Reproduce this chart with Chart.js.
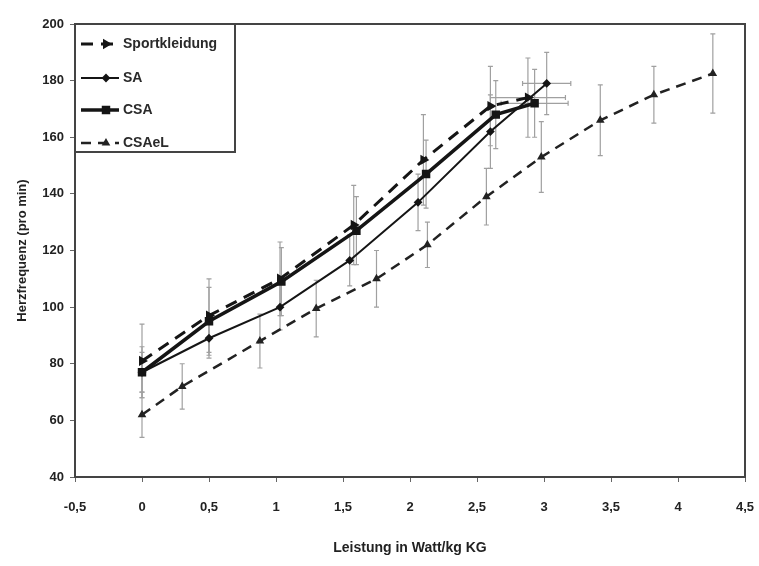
<!DOCTYPE html>
<html>
<head>
<meta charset="utf-8">
<script src="https://cdn.jsdelivr.net/npm/chart.js@4.4.1/dist/chart.umd.min.js"></script>
<style>
  html, body { margin: 0; padding: 0; background: #fff; }
  #wrap { width: 759px; height: 566px; }
</style>
</head>
<body>
<div id="wrap"><canvas id="hfChart" width="759" height="566"></canvas></div>
<script>
// Werte (geschätzt)
const xTicks = [-0.5, 0, 0.5, 1, 1.5, 2, 2.5, 3, 3.5, 4, 4.5];
const yTicks = [40, 60, 80, 100, 120, 140, 160, 180, 200];

const sportX = [0, 0.5, 1.03, 1.58, 2.1, 2.6, 2.88];
const sportY = [81, 97, 110, 129, 152, 171, 174];
const sportSd = [13, 13, 13, 14, 16, 14, 14];
const sportXSd = [0, 0, 0, 0, 0, 0, 0.28];

const saX = [0, 0.5, 1.03, 1.55, 2.06, 2.6, 3.02];
const saY = [77, 89, 100, 116.5, 137, 162, 179];
const saSd = [7, 7, 8, 9, 10, 13, 11];
const saXSd = [0, 0, 0, 0, 0, 0, 0.18];

const csaX = [0, 0.5, 1.04, 1.6, 2.12, 2.64, 2.93];
const csaY = [77, 95, 109, 127, 147, 168, 172];
const csaSd = [9, 12, 12, 12, 12, 12, 12];
const csaXSd = [0, 0, 0, 0, 0, 0, 0.25];

const csaelX = [0, 0.3, 0.88, 1.3, 1.75, 2.13, 2.57, 2.98, 3.42, 3.82, 4.26];
const csaelY = [62, 72, 88, 99.5, 110, 122, 139, 153, 166, 175, 182.5];
const csaelSd = [8, 8, 9.5, 10, 10, 8, 10, 12.5, 12.5, 10, 14];
const csaelXSd = [0, 0, 0, 0, 0, 0, 0, 0, 0, 0, 0];

const toPoints = (xs, ys) => xs.map((x, i) => ({ x: x, y: ys[i] }));
const comma = (v) => String(v).replace('.', ',');

const INK = '#151515';
const FONT = "'Liberation Sans', Arial, sans-serif";

// Fehlerbalken (grau) unter den Linien
const errorBars = {
    id: 'errorBars',
    beforeDatasetsDraw(chart) {
        const { ctx, scales: { x, y } } = chart;
        ctx.save();
        ctx.strokeStyle = '#a0a0a0';
        ctx.lineWidth = 1.2;
        chart.data.datasets.forEach((ds) => {
            ds.data.forEach((p, i) => {
                const px = x.getPixelForValue(p.x);
                const sd = ds.ySd[i];
                if (sd) {
                    const top = y.getPixelForValue(p.y + sd);
                    const bot = y.getPixelForValue(p.y - sd);
                    ctx.beginPath();
                    ctx.moveTo(px, top); ctx.lineTo(px, bot);
                    ctx.moveTo(px - 2.5, top); ctx.lineTo(px + 2.5, top);
                    ctx.moveTo(px - 2.5, bot); ctx.lineTo(px + 2.5, bot);
                    ctx.stroke();
                }
                const xsd = ds.xSd[i];
                if (xsd) {
                    const py = y.getPixelForValue(p.y);
                    const l = x.getPixelForValue(p.x - xsd);
                    const r = x.getPixelForValue(p.x + xsd);
                    ctx.beginPath();
                    ctx.moveTo(l, py); ctx.lineTo(r, py);
                    ctx.moveTo(l, py - 2.5); ctx.lineTo(l, py + 2.5);
                    ctx.moveTo(r, py - 2.5); ctx.lineTo(r, py + 2.5);
                    ctx.stroke();
                }
            });
        });
        ctx.restore();
    }
};

// Rahmen um den Plotbereich und Legende oben links
const frameAndLegend = {
    id: 'frameAndLegend',
    afterDraw(chart) {
        const { ctx, chartArea: a } = chart;
        ctx.save();
        ctx.strokeStyle = '#444';
        ctx.lineWidth = 2;
        ctx.strokeRect(a.left, a.top, a.right - a.left, a.bottom - a.top);

        const boxW = 160, boxH = 128;
        ctx.fillStyle = '#fff';
        ctx.fillRect(a.left, a.top, boxW, boxH);
        ctx.strokeRect(a.left, a.top, boxW, boxH);

        const rows = [20, 54, 86, 119];
        ctx.font = 'bold 14px ' + FONT;
        ctx.textBaseline = 'middle';
        chart.data.datasets.forEach((ds, i) => {
            const ly = a.top + rows[i];
            const x0 = a.left + 6, x1 = a.left + 44;
            ctx.strokeStyle = ds.borderColor;
            ctx.lineWidth = ds.borderWidth;
            ctx.setLineDash(ds.borderDash || []);
            ctx.beginPath();
            ctx.moveTo(x0, ly); ctx.lineTo(x1, ly);
            ctx.stroke();
            ctx.setLineDash([]);
            ctx.fillStyle = INK;
            Chart.helpers.drawPoint(ctx, {
                pointStyle: ds.pointStyle,
                radius: ds.pointRadius,
                rotation: ds.pointRotation || 0,
                borderWidth: 1
            }, (x0 + x1) / 2 + 6, ly);
            ctx.fillStyle = '#2a2a2a';
            ctx.fillText(ds.label, a.left + 48, ly);
        });
        ctx.restore();
    }
};

new Chart(document.getElementById('hfChart'), {
    type: 'scatter',
    data: {
        datasets: [
            {
                label: 'Sportkleidung',
                data: toPoints(sportX, sportY),
                ySd: sportSd, xSd: sportXSd,
                showLine: true,
                borderColor: INK, backgroundColor: INK,
                borderWidth: 3, borderDash: [12, 8],
                pointStyle: 'triangle', pointRotation: 90, pointRadius: 3
            },
            {
                label: 'SA',
                data: toPoints(saX, saY),
                ySd: saSd, xSd: saXSd,
                showLine: true,
                borderColor: INK, backgroundColor: INK,
                borderWidth: 2,
                pointStyle: 'rectRot', pointRadius: 3
            },
            {
                label: 'CSA',
                data: toPoints(csaX, csaY),
                ySd: csaSd, xSd: csaXSd,
                showLine: true,
                borderColor: INK, backgroundColor: INK,
                borderWidth: 3.5,
                pointStyle: 'rect', pointRadius: 3.5
            },
            {
                label: 'CSAeL',
                data: toPoints(csaelX, csaelY),
                ySd: csaelSd, xSd: csaelXSd,
                showLine: true,
                borderColor: '#222', backgroundColor: INK,
                borderWidth: 2.5, borderDash: [10, 7],
                pointStyle: 'triangle', pointRadius: 2.5
            }
        ]
    },
    options: {
        responsive: false,
        animation: false,
        layout: { padding: { top: 24, right: 14, bottom: 0, left: 0 } },
        plugins: {
            legend: { display: false },
            tooltip: { enabled: false }
        },
        scales: {
            x: {
                type: 'linear',
                min: -0.5, max: 4.5,
                afterBuildTicks: (s) => { s.ticks = xTicks.map(v => ({ value: v })); },
                afterFit: (s) => { s.height = 89; s.paddingLeft = 0; s.paddingRight = 0; },
                grid: { drawOnChartArea: false, drawTicks: true, tickLength: 5, color: '#666' },
                border: { display: false },
                ticks: {
                    padding: 18,
                    color: '#222',
                    font: { family: FONT, size: 13, weight: 'bold' },
                    callback: (v) => comma(v)
                },
                title: {
                    display: true,
                    text: 'Leistung in Watt/kg KG',
                    color: '#222',
                    font: { family: FONT, size: 14, weight: 'bold' },
                    padding: { top: 0, bottom: 9 }
                }
            },
            y: {
                min: 40, max: 200,
                afterBuildTicks: (s) => { s.ticks = yTicks.map(v => ({ value: v })); },
                afterFit: (s) => { s.width = 75; s.paddingTop = 0; s.paddingBottom = 0; },
                grid: { drawOnChartArea: false, drawTicks: true, tickLength: 5, color: '#666' },
                border: { display: false },
                ticks: {
                    padding: 6,
                    color: '#222',
                    font: { family: FONT, size: 13, weight: 'bold' }
                },
                title: {
                    display: true,
                    text: 'Herzfrequenz (pro min)',
                    color: '#222',
                    font: { family: FONT, size: 13, weight: 'bold' },
                    padding: { top: 15, bottom: 0 }
                }
            }
        }
    },
    plugins: [errorBars, frameAndLegend]
});
</script>
</body>
</html>
